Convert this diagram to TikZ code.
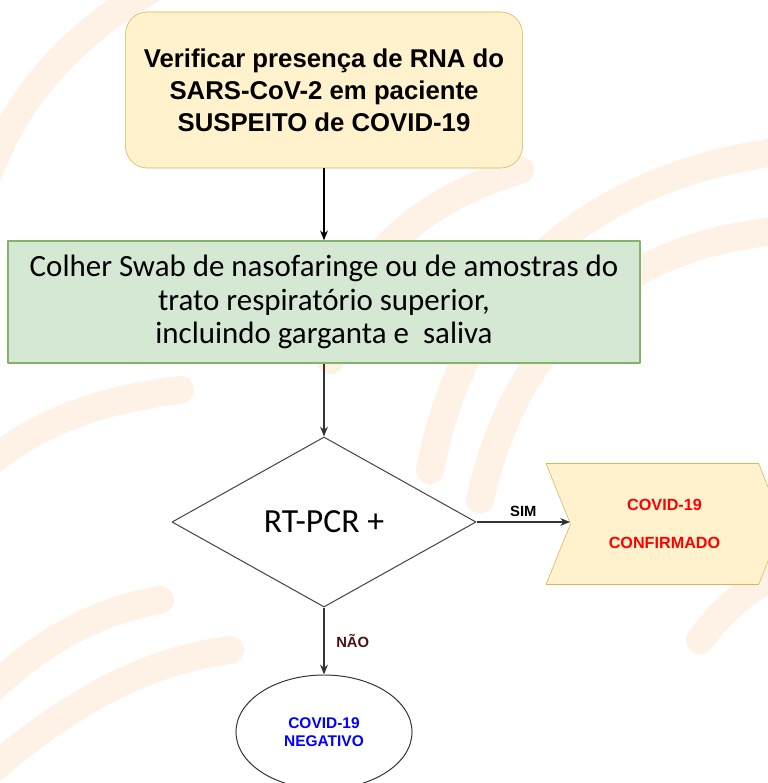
\documentclass[tikz,border=0pt]{standalone}
\usepackage{fontspec}
\setmainfont{Liberation Sans}
\newfontfamily\calfont{Carlito}
\usetikzlibrary{shapes.geometric,shapes.symbols,arrows.meta}
\definecolor{amarelo}{HTML}{FFF2CC}
\definecolor{amareloborda}{HTML}{D6B656}
\definecolor{verde}{HTML}{D5E8D4}
\definecolor{verdeborda}{HTML}{82B366}
\definecolor{marca}{HTML}{FEF2E7}
\definecolor{vinho}{HTML}{4D1111}
\begin{document}
\begin{tikzpicture}[x=0.025cm,y=-0.025cm,line join=round,>={Stealth[length=7pt,width=5.5pt]},
	caixa/.style={draw=amareloborda,fill=amarelo,rounded corners=0.55cm,minimum width=9.925cm,minimum height=3.9cm,align=center,font=\bfseries\fontsize{18.3}{22.7}\selectfont},
	coleta/.style={draw=verdeborda,fill=verde,line width=0.9pt,minimum width=15.8cm,minimum height=3.05cm,align=center,font=\calfont\fontsize{22}{24}\selectfont},
	decisao/.style={diamond,draw=black!75,line width=0.7pt,fill=white,minimum width=7.6cm,minimum height=4.25cm,inner sep=0pt,font=\calfont\fontsize{24}{28}\selectfont},
	positivo/.style={signal,signal to=east,signal from=west,signal pointer angle=136,draw=amareloborda,fill=amarelo,minimum width=5.925cm,minimum height=3.025cm,inner sep=0pt,align=center,text=red,font=\bfseries\fontsize{11.5}{27}\selectfont},
	negativo/.style={ellipse,draw=black!80,line width=0.7pt,fill=white,minimum width=4.4cm,minimum height=2.85cm,inner sep=0pt,align=center,text=blue,font=\bfseries\fontsize{11}{13}\selectfont},
	seta/.style={->,draw=black!80,line width=0.8pt},
	rotulo/.style={font=\bfseries\fontsize{10.5}{12}\selectfont}]
	\def\xc{324}
	\useasboundingbox (0,0) rectangle (768,783);
	\clip (0,0) rectangle (768,783);
	\fill[white] (0,0) rectangle (768,783);
	% marca d'agua ao fundo
	\begin{scope}[marca,line width=0.7cm,line cap=round]
		\draw (430,470) .. controls (470,260) and (620,170) .. (790,150);
		\draw (480,500) .. controls (520,320) and (640,240) .. (790,230);
		\draw (330,360) .. controls (350,260) and (420,200) .. (520,170);
		\draw (-20,780) .. controls (70,700) and (150,660) .. (230,650);
		\draw (-20,700) .. controls (40,640) and (100,610) .. (160,600);
		\draw (-10,170) .. controls (20,90) and (80,30) .. (150,-10);
		\draw (700,640) .. controls (730,600) and (760,580) .. (790,570);
		\draw (-20,470) .. controls (40,420) and (100,400) .. (180,390);
	\end{scope}
	\node[caixa] (suspeito) at (\xc,90) {Verificar presença de RNA do\\SARS-CoV-2 em paciente\\SUSPEITO de COVID-19};
	\node[coleta] (swab) at (\xc,302) {Colher Swab de nasofaringe ou de amostras do\\trato respiratório superior,\\incluindo garganta e~ saliva};
	\node[decisao] (pcr) at (\xc,522) {RT-PCR +};
	\node[positivo] (confirmado) at (664.5,524) {COVID-19\\CONFIRMADO};
	\node[negativo] (descartado) at (\xc,732) {COVID-19\\NEGATIVO};
	\draw[seta,draw=black] (suspeito) -- (swab);
	\draw[seta] (swab) -- (pcr);
	\draw[seta] (pcr.east) -- (pcr.east -| confirmado.west) node[rotulo,midway,above] {SIM};
	\draw[seta] (pcr.south) -- (descartado) node[rotulo,text=vinho,midway,right,xshift=5pt] {NÃO};
\end{tikzpicture}
\end{document}
